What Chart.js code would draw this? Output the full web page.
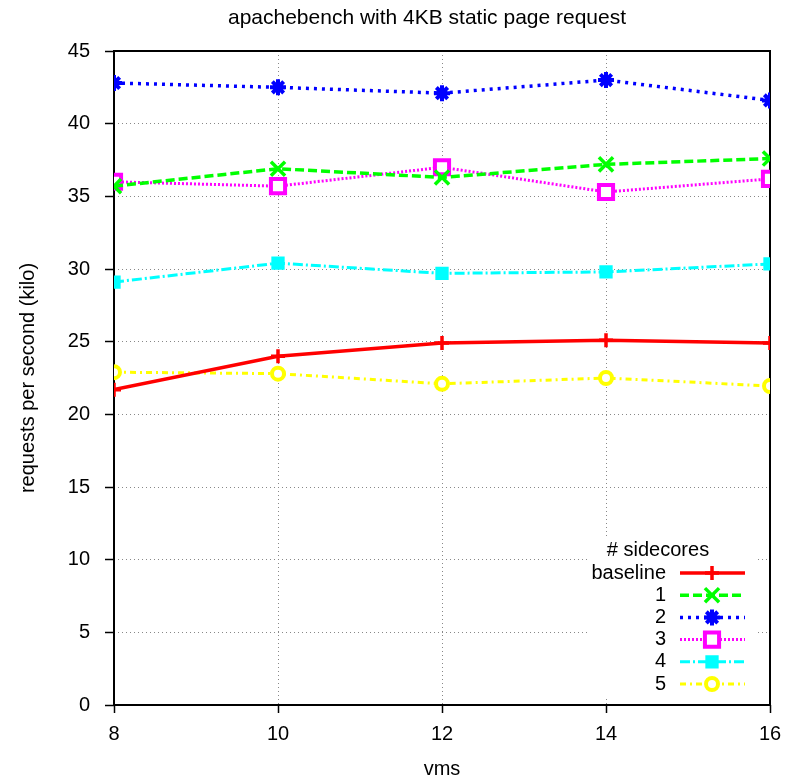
<!DOCTYPE html>
<html><head><meta charset="utf-8">
<script src="https://cdn.jsdelivr.net/npm/chart.js@4/dist/chart.umd.min.js"></script>
<style>html,body{margin:0;padding:0;background:#fff}#wrap{width:785px;height:781px}</style>
</head><body><div id="wrap"><canvas id="c" width="785" height="781"></canvas></div>
<script>
const chartTitle = 'apachebench with 4KB static page request';
const xTitle = 'vms';
const yTitle = 'requests per second (kilo)';
const legendTitle = '# sidecores';
const vms = [8, 10, 12, 14, 16];
const seriesNames = ['baseline', '1', '2', '3', '4', '5'];
const baseline = [21.7, 24.0, 24.9, 25.1, 24.9];
const side1 = [35.7, 36.9, 36.3, 37.2, 37.6];
const side2 = [42.8, 42.5, 42.1, 43.0, 41.6];
const side3 = [36.0, 35.7, 37.0, 35.3, 36.2];
const side4 = [29.1, 30.4, 29.7, 29.8, 30.35];
const side5 = [22.9, 22.8, 22.1, 22.5, 21.95];
const yTicks = [0, 5, 10, 15, 20, 25, 30, 35, 40, 45];
const xTicks = [8, 10, 12, 14, 16];

const FONT = '"Liberation Sans", Arial, Helvetica, sans-serif';
const seriesValues = [baseline, side1, side2, side3, side4, side5];
const styles = [
  {c:'#ff0000', w:3.5, dash:[], ps:'cross', r:7, pbw:3.5, bg:'#ff0000'},
  {c:'#00ff00', w:3.5, dash:[9,4], ps:'crossRot', r:10, pbw:3.5, bg:'#00ff00'},
  {c:'#0000ff', w:3.5, dash:[3,5], ps:'star', r:8, pbw:4, bg:'#0000ff'},
  {c:'#ff00ff', w:3, dash:[2,2], ps:'rect', r:10, pbw:4, bg:'#ffffff'},
  {c:'#00ffff', w:3, dash:[10,3,2,3], ps:'rect', r:8, pbw:2, bg:'#00ffff'},
  {c:'#ffff00', w:3, dash:[6,4,2,4], ps:'circle', r:6, pbw:4, bg:'#ffffff'}
];
const datasets = seriesNames.map((name, i) => ({
  label: name,
  data: vms.map((v, j) => ({x: v, y: seriesValues[i][j]})),
  borderColor: styles[i].c,
  backgroundColor: styles[i].bg,
  borderWidth: styles[i].w,
  borderDash: styles[i].dash,
  pointStyle: styles[i].ps,
  pointRadius: styles[i].r,
  pointBorderWidth: styles[i].pbw,
  pointBorderColor: styles[i].c,
  pointBackgroundColor: styles[i].bg,
  tension: 0,
  fill: false
}));

const titlePlugin = {
  id: 'gpTitle',
  afterDraw(chart) {
    const ctx = chart.ctx;
    ctx.save();
    ctx.font = '21px ' + FONT;
    ctx.fillStyle = '#000';
    ctx.textAlign = 'center';
    ctx.textBaseline = 'middle';
    ctx.fillText(chartTitle, 427, 18);
    ctx.restore();
  }
};
const framePlugin = {
  id: 'gpFrame',
  beforeDatasetsDraw(chart) {
    const {ctx, chartArea: a} = chart;
    ctx.save();
    ctx.strokeStyle = '#000';
    ctx.lineWidth = 2;
    ctx.setLineDash([]);
    ctx.strokeRect(a.left, a.top, a.right - a.left, a.bottom - a.top);
    ctx.restore();
  }
};
const legendPlugin = {
  id: 'gpLegend',
  afterDraw(chart) {
    const ctx = chart.ctx;
    const a = chart.chartArea;
    ctx.save();
    ctx.fillStyle = '#fff';
    ctx.fillRect(a.right - 180, a.bottom - 168, 167, 160);
    ctx.font = '20px ' + FONT;
    ctx.fillStyle = '#000';
    ctx.textBaseline = 'middle';
    ctx.textAlign = 'center';
    ctx.fillText(legendTitle, a.right - 112, a.bottom - 155);
    chart.data.datasets.forEach((ds, i) => {
      const y = a.bottom - 132 + i * 22.2;
      ctx.fillStyle = '#000';
      ctx.textAlign = 'right';
      ctx.fillText(ds.label, a.right - 104, y);
      ctx.save();
      ctx.strokeStyle = ds.borderColor;
      ctx.lineWidth = ds.borderWidth;
      ctx.setLineDash(ds.borderDash || []);
      ctx.beginPath();
      ctx.moveTo(a.right - 90, y);
      ctx.lineTo(a.right - 25, y);
      ctx.stroke();
      ctx.restore();
      ctx.save();
      ctx.setLineDash([]);
      ctx.strokeStyle = ds.pointBorderColor;
      ctx.fillStyle = ds.pointBackgroundColor;
      ctx.lineWidth = ds.pointBorderWidth;
      Chart.helpers.drawPoint(ctx, {pointStyle: ds.pointStyle, radius: ds.pointRadius, borderWidth: ds.pointBorderWidth, rotation: 0}, a.right - 58, y);
      ctx.restore();
    });
    ctx.restore();
  }
};

new Chart(document.getElementById('c'), {
  type: 'line',
  data: { datasets },
  plugins: [titlePlugin, framePlugin, legendPlugin],
  options: {
    responsive: false,
    devicePixelRatio: 1,
    animation: false,
    layout: { padding: { left: 0, right: 15, top: 51, bottom: 0 } },
    plugins: { legend: { display: false }, title: { display: false }, tooltip: { enabled: false } },
    scales: {
      x: {
        type: 'linear', min: 8, max: 16,
        afterBuildTicks: s => { s.ticks = xTicks.map(v => ({value: v})); },
        afterFit: s => { s.height = 76; s.paddingLeft = 0; s.paddingRight = 0; },
        ticks: { font: { size: 20, family: FONT }, color: '#000', padding: 9 },
        grid: { color: '#888', lineWidth: 1, tickColor: '#000', tickLength: 8, tickWidth: 1.5, tickBorderDash: [] },
        border: { display: false, dash: [1, 3] },
        title: { display: true, text: xTitle, color: '#000', font: { size: 20, family: FONT }, padding: { top: 0, bottom: 0 } }
      },
      y: {
        type: 'linear', min: 0, max: 45,
        afterBuildTicks: s => { s.ticks = yTicks.map(v => ({value: v})); },
        afterFit: s => { s.width = 114; s.paddingTop = 0; s.paddingBottom = 0; },
        ticks: { font: { size: 20, family: FONT }, color: '#000', padding: 15 },
        grid: { color: '#888', lineWidth: 1, tickColor: '#000', tickLength: 9, tickWidth: 1.5, tickBorderDash: [] },
        border: { display: false, dash: [1, 3] },
        title: { display: true, text: yTitle, color: '#000', font: { size: 20, family: FONT }, padding: { top: 16, bottom: 0 } }
      }
    }
  }
});
</script></body></html>
